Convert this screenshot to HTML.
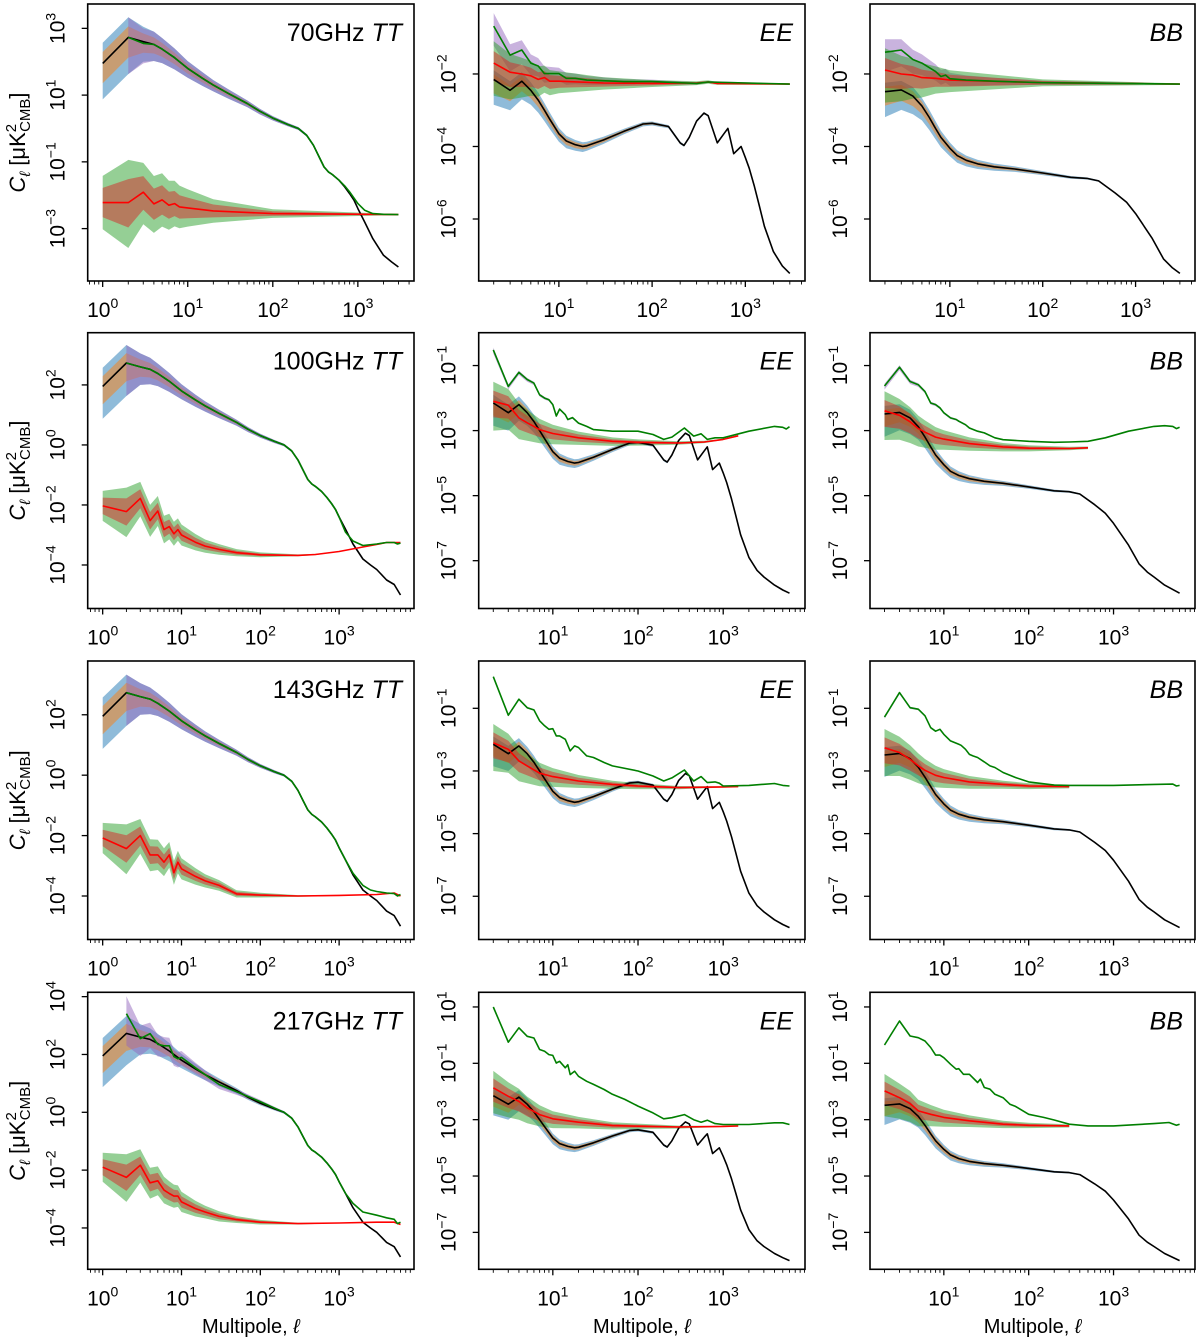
<!DOCTYPE html>
<html><head><meta charset="utf-8"><style>
html,body{margin:0;padding:0;background:#fff;}
svg{display:block;font-family:"Liberation Sans","DejaVu Sans",sans-serif;}
</style></head><body>
<svg id="fig" xmlns="http://www.w3.org/2000/svg" width="1200" height="1342" viewBox="0 0 1200 1342"></svg>
<script>
// ---------- shared theory spectra (log10 C_ell) ----------
const tt_theory_ell=[1,2,3,4,5,7,10,15,20,30,50,70,100,150,200,250,300,350,400,450,500,600,700,800,900,1000,1200,1500,2000,2500,3000,4000,5000,6000];
const tt_theory_val=[1.95,2.73,2.6,2.52,2.38,2.12,1.8,1.5,1.3,1.05,0.75,0.52,0.31,0.12,0.0,-0.2,-0.5,-0.85,-1.15,-1.3,-1.38,-1.55,-1.75,-1.95,-2.15,-2.4,-2.8,-3.3,-3.8,-4.0,-4.15,-4.5,-4.65,-5.0];
const ee_theory_ell=[2,3,4,5,6,7,8,10,12,15,18,20,30,50,80,100,150,200,220,250,300,360,400,500,600,650,750,900,1000,1100,1250,1400,1600,2000,2500,3000,4000,5000,6000];
const ee_theory_val=[-2.15,-2.45,-2.2,-2.45,-2.72,-3.0,-3.25,-3.65,-3.85,-3.95,-4.0,-3.98,-3.82,-3.58,-3.38,-3.36,-3.45,-3.9,-3.97,-3.75,-3.3,-3.08,-3.15,-3.9,-3.62,-3.5,-4.2,-4.0,-4.3,-4.6,-5.1,-5.6,-6.2,-6.9,-7.3,-7.5,-7.75,-7.9,-8.0];
const bb_theory_ell=[2,3,4,5,6,7,8,10,12,15,20,30,50,100,200,300,400,600,800,1000,1500,2000,2500,3000,4000,6000];
const bb_theory_val=[-2.49,-2.44,-2.61,-2.88,-3.2,-3.5,-3.75,-4.05,-4.25,-4.38,-4.48,-4.56,-4.62,-4.73,-4.85,-4.88,-4.95,-5.28,-5.54,-5.85,-6.52,-7.1,-7.35,-7.5,-7.75,-8.0];

// ---------- TT noise / total ----------
const tt70_noise_ell=[1,2,3,4,5,6,7,8,10,20,100,3000];
const tt70_noise_val=[-2.22,-2.22,-1.91,-2.26,-2.14,-2.3,-2.25,-2.35,-2.38,-2.47,-2.55,-2.58];
const tt70_total_ell=[2,3,4,5,7,10,15,20,30,50,70,100,150,200,250,300,350,400,450,500,600,700,800,1000,1200,1500,2000,3000];
const tt70_total_val=[2.73,2.55,2.52,2.38,2.12,1.8,1.5,1.3,1.05,0.75,0.52,0.31,0.12,0.0,-0.2,-0.5,-0.85,-1.15,-1.3,-1.38,-1.55,-1.72,-1.9,-2.25,-2.45,-2.55,-2.57,-2.58];
const tt100_noise_ell=[1,2,3,4,5,6,7,8,9,10,15,20,30,50,100,300,500,1000,2000,4000,6000];
const tt100_noise_val=[-2.03,-2.22,-1.78,-2.52,-2.2,-2.82,-2.72,-2.96,-2.82,-3.0,-3.24,-3.37,-3.48,-3.59,-3.66,-3.68,-3.65,-3.55,-3.4,-3.25,-3.25];
const tt100_total_ell=[2,3,4,5,7,10,15,20,30,50,70,100,150,200,250,300,350,400,450,500,600,700,800,900,1000,1200,1500,2000,3000,4000,5000,5500,6000];
const tt100_total_val=[2.73,2.6,2.52,2.38,2.12,1.8,1.5,1.3,1.05,0.75,0.52,0.31,0.12,0.0,-0.2,-0.5,-0.85,-1.15,-1.3,-1.38,-1.55,-1.75,-1.95,-2.15,-2.4,-2.9,-3.2,-3.35,-3.3,-3.25,-3.25,-3.3,-3.27];
const tt143_noise_ell=[1,2,3,4,5,6,7,8,9,10,15,20,30,50,100,300,1000,3000,5000,6000];
const tt143_noise_val=[-2.08,-2.43,-2.0,-2.64,-2.64,-2.88,-2.64,-3.23,-2.88,-3.1,-3.35,-3.5,-3.65,-3.93,-3.97,-4.0,-3.98,-3.95,-3.9,-4.0];
const tt143_total_ell=[2,3,4,5,7,10,15,20,30,50,70,100,150,200,250,300,350,400,450,500,600,700,800,900,1000,1200,1500,2000,2500,3000,4000,5000,5500,6000];
const tt143_total_val=[2.73,2.6,2.52,2.38,2.12,1.8,1.5,1.3,1.05,0.75,0.52,0.31,0.12,0.0,-0.2,-0.5,-0.85,-1.15,-1.3,-1.38,-1.55,-1.75,-1.95,-2.15,-2.4,-2.8,-3.25,-3.65,-3.8,-3.85,-3.9,-3.92,-4.0,-3.95];
const tt217_noise_ell=[1,2,3,4,5,6,7,8,9,10,15,20,30,50,100,300,1000,3000,5000,6000];
const tt217_noise_val=[-1.9,-2.25,-1.83,-2.44,-2.37,-2.69,-2.81,-2.9,-2.9,-3.1,-3.33,-3.45,-3.6,-3.71,-3.8,-3.85,-3.83,-3.8,-3.8,-3.88];
const tt217_total_ell=[2,3,4,5,6,7,8,9,10,15,20,30,50,100,150,200,250,300,350,400,450,500,600,700,800,900,1000,1200,1500,2000,3000,4000,5000,5500,6000];
const tt217_total_val=[3.41,2.55,2.72,2.35,2.3,2.3,1.93,1.85,1.9,1.54,1.3,0.96,0.71,0.37,0.15,0.0,-0.2,-0.5,-0.85,-1.15,-1.3,-1.38,-1.55,-1.75,-1.95,-2.15,-2.4,-2.8,-3.15,-3.45,-3.56,-3.65,-3.7,-3.85,-3.8];

// ---------- EE noise / total ----------
const ee70_noise_ell=[2,3,4,5,6,7,8,10,30,100,300,400,500,3000];
const ee70_noise_val=[-1.7,-1.95,-2.0,-2.05,-2.15,-2.1,-2.2,-2.2,-2.25,-2.26,-2.25,-2.22,-2.26,-2.28];
const ee70_total_ell=[2,3,4,5,6,7,10,12,15,20,50,100,300,400,3000];
const ee70_total_val=[-0.68,-1.48,-1.34,-1.7,-1.78,-1.99,-1.99,-2.12,-2.12,-2.17,-2.21,-2.21,-2.26,-2.22,-2.28];
const ee100_noise_ell=[2,3,4,5,7,10,20,50,100,300,600,1000,1500];
const ee100_noise_val=[-2.1,-2.22,-2.61,-2.76,-2.97,-3.09,-3.22,-3.33,-3.36,-3.38,-3.35,-3.27,-3.16];
const ee100_total_ell=[2,3,4,5,6,7,8,9,10,11,12,14,15,17,20,25,30,50,100,150,200,250,350,450,550,650,800,1000,2000,4000,5000,5500,6000];
const ee100_total_val=[-0.52,-1.64,-1.21,-1.43,-1.54,-1.9,-2.0,-2.05,-2.2,-2.55,-2.34,-2.51,-2.66,-2.6,-2.77,-2.87,-2.97,-3.02,-3.02,-3.12,-3.27,-3.2,-2.92,-3.17,-3.1,-3.27,-3.22,-3.22,-3.02,-2.87,-2.9,-2.95,-2.88];
const ee143_noise_ell=[2,3,4,5,7,10,20,50,100,300,1000,1500];
const ee143_noise_val=[-2.1,-2.31,-2.68,-2.84,-3.07,-3.18,-3.32,-3.43,-3.48,-3.53,-3.51,-3.5];
const ee143_total_ell=[2,3,4,5,6,7,8,9,10,11,12,14,16,18,20,25,30,40,50,100,150,200,250,350,450,550,650,800,900,1000,2000,4000,5000,6000];
const ee143_total_val=[0.01,-1.22,-0.71,-0.98,-1.05,-1.4,-1.56,-1.67,-1.65,-1.88,-1.88,-1.99,-2.36,-2.2,-2.25,-2.52,-2.57,-2.73,-2.84,-3.0,-3.16,-3.32,-3.22,-2.97,-3.32,-3.18,-3.37,-3.35,-3.39,-3.48,-3.46,-3.4,-3.46,-3.48];
const ee217_noise_ell=[2,3,4,5,7,10,20,50,100,300,1000,1500];
const ee217_noise_val=[-1.87,-2.17,-2.35,-2.58,-2.82,-2.97,-3.09,-3.21,-3.23,-3.26,-3.24,-3.22];
const ee217_total_ell=[2,3,4,5,6,7,8,9,10,11,12,14,15,16,18,20,25,30,40,50,70,100,150,200,250,350,450,550,650,800,1000,2000,4000,5000,6000];
const ee217_total_val=[1.0,-0.25,0.26,-0.04,-0.1,-0.51,-0.57,-0.69,-0.72,-0.99,-0.93,-1.16,-1.05,-1.4,-1.28,-1.46,-1.64,-1.75,-1.93,-2.1,-2.28,-2.52,-2.76,-2.97,-2.93,-2.82,-3.0,-3.09,-3.02,-3.14,-3.17,-3.17,-3.11,-3.11,-3.17];

// ---------- BB noise / total ----------
const bb70_noise_ell=[2,3,4,5,7,10,100,3000];
const bb70_noise_val=[-1.89,-2.0,-2.03,-2.1,-2.12,-2.17,-2.24,-2.28];
const bb70_total_ell=[2,3,4,5,7,8,9,10,15,30,100,3000];
const bb70_total_val=[-1.4,-1.34,-1.6,-1.7,-1.93,-2.07,-2.03,-2.13,-2.17,-2.2,-2.24,-2.28];
const bb100_noise_ell=[2,3,4,5,6,8,10,20,50,100,300,500];
const bb100_noise_val=[-2.39,-2.53,-2.73,-2.94,-3.05,-3.2,-3.26,-3.4,-3.5,-3.54,-3.55,-3.53];
const bb100_total_ell=[2,3,4,5,6,7,8,9,10,12,14,15,18,20,25,30,40,50,100,200,300,500,800,1500,3000,4000,5000,5500,6000];
const bb100_total_val=[-1.63,-1.05,-1.49,-1.59,-1.8,-2.15,-2.2,-2.3,-2.45,-2.61,-2.66,-2.71,-2.82,-2.92,-3.02,-3.07,-3.22,-3.28,-3.33,-3.36,-3.35,-3.33,-3.22,-3.02,-2.87,-2.85,-2.87,-2.94,-2.9];
const bb143_noise_ell=[2,3,4,5,6,8,10,20,50,100,300];
const bb143_noise_val=[-2.26,-2.41,-2.63,-2.84,-2.98,-3.14,-3.21,-3.35,-3.43,-3.48,-3.5];
const bb143_total_ell=[2,3,4,5,6,7,8,9,10,12,15,16,18,20,22,25,30,35,40,50,70,100,200,300,1000,3000,5000,5500,6000];
const bb143_total_val=[-1.28,-0.5,-0.98,-1.03,-1.24,-1.62,-1.73,-1.67,-1.83,-2.04,-2.15,-2.18,-2.31,-2.47,-2.52,-2.57,-2.71,-2.84,-2.89,-3.05,-3.21,-3.35,-3.45,-3.46,-3.46,-3.43,-3.42,-3.48,-3.46];
const bb217_noise_ell=[2,3,4,5,7,10,20,50,100,300];
const bb217_noise_val=[-1.98,-2.22,-2.43,-2.69,-2.81,-2.92,-3.04,-3.16,-3.2,-3.22];
const bb217_total_ell=[2,3,4,5,6,7,8,9,10,12,14,15,17,20,25,27,30,35,40,50,60,70,100,150,200,300,500,1000,3000,4500,5500,6000];
const bb217_total_val=[-0.35,0.5,-0.03,-0.09,-0.21,-0.44,-0.71,-0.71,-0.8,-1.03,-1.21,-1.19,-1.39,-1.39,-1.68,-1.56,-1.86,-1.92,-2.1,-2.22,-2.45,-2.53,-2.81,-2.92,-3.01,-3.16,-3.22,-3.22,-3.14,-3.1,-3.2,-3.16];

// ---------- uncertainty band half-widths (decades) ----------
const tt_w_ell=[1,2,3,5,10,20,50,100,200,500,1000];
const tt_sig_up=[0.62,0.6,0.45,0.33,0.22,0.15,0.09,0.06,0.04,0.02,0];
const tt_sig_dn=[1.08,1.1,0.6,0.42,0.28,0.19,0.11,0.07,0.045,0.02,0];
const tt_noi_up=[0.5,0.8,0.55,0.5,0.35,0.22,0.12,0.08,0.04,0.02,0.01];
const tt_noi_dn=[0.5,0.85,0.6,0.5,0.35,0.22,0.12,0.08,0.04,0.02,0.01];
const pol_w_ell=[2,3,4,5,7,10,15,20,30,50,100,200,500,1000];
const pol_sig_up=[0.25,0.25,0.25,0.22,0.2,0.16,0.13,0.11,0.09,0.07,0.05,0.035,0.02,0];
const pol_sig_dn=[0.7,0.55,0.5,0.4,0.3,0.22,0.17,0.14,0.11,0.08,0.06,0.04,0.02,0];
const pol_noi_up=[0.6,0.5,0.45,0.4,0.33,0.27,0.22,0.19,0.16,0.12,0.09,0.06,0.04,0.02];
const pol_noi_dn=[0.9,0.75,0.65,0.55,0.42,0.33,0.27,0.22,0.18,0.14,0.1,0.07,0.04,0.02];

// ---------- tick labels ----------
const xTicksTT=[0,1,2,3];
const xTicksPol=[1,2,3];
const yTicksTT=[[3,1,-1,-3],[2,0,-2,-4],[2,0,-2,-4],[4,2,0,-2,-4]];
const yTicksPol=[[-2,-4,-6],[-1,-3,-5,-7],[-1,-3,-5,-7],[1,-1,-3,-5,-7]];
const freqLabels=["70GHz","100GHz","143GHz","217GHz"];

// ---------- layout ----------
const colX=[[87.7,414],[478.7,805],[870,1195]];
const rowY=[[4,281],[332.7,608.5],[661,939.5],[992.3,1269.3]];
const xRangeTT=[[-0.176,3.66],[-0.19,3.95],[-0.19,3.95],[-0.19,3.95]];
const xRangePol=[[0.14,3.64],[0.13,3.96],[0.13,3.96],[0.13,3.96]];
const yRangeTT=[[3.73,-4.57],[3.74,-5.45],[3.78,-5.44],[4.15,-5.43]];
const yRangePol=[[-0.07,-7.71],[0.01,-8.47],[0.51,-8.38],[1.52,-8.31]];
const lmaxRow=[3000,6000,6000,6000];
const noiseScaleTT=[1.6,1,1,1];
const noiseScalePol=[1,1,1,1];
const purpScalePol=[0.6,0.12,0.06,0.03];

const NS="http://www.w3.org/2000/svg";
const svg=document.getElementById('fig');
function mk(tag,attrs,parent){const e=document.createElementNS(NS,tag);for(const k in attrs)e.setAttribute(k,attrs[k]);(parent||svg).appendChild(e);return e;}
function interp(xs,ys,l){const lx=Math.log10(l);const L=xs.map(Math.log10);if(lx<=L[0])return ys[0];if(lx>=L[L.length-1])return ys[ys.length-1];for(let i=1;i<L.length;i++){if(lx<=L[i]){const t=(lx-L[i-1])/(L[i]-L[i-1]);return ys[i-1]+t*(ys[i]-ys[i-1]);}}return ys[ys.length-1];}

const defs=mk('defs',{});
let clipN=0;

function drawPanel(r,c,kind,d){
  const [x0,x1]=colX[c],[y0,y1]=rowY[r];
  const xr=kind==='TT'?xRangeTT[r]:xRangePol[r];
  const yr=kind==='TT'?yRangeTT[r]:yRangePol[r];
  const sx=l=>x0+(Math.log10(l)-xr[0])/(xr[1]-xr[0])*(x1-x0);
  const sy=v=>y0+(yr[0]-v)/(yr[0]-yr[1])*(y1-y0);
  const lmax=lmaxRow[r];
  const g=mk('g',{});
  
  
  const cid='clip'+(clipN++);
  const cp=mk('clipPath',{id:cid},defs);
  mk('rect',{x:x0,y:y0,width:x1-x0,height:y1-y0},cp);
  const pg=mk('g',{'clip-path':'url(#'+cid+')'},g);
  const wE=kind==='TT'?tt_w_ell:pol_w_ell;
  const sU=kind==='TT'?tt_sig_up:pol_sig_up, sD=kind==='TT'?tt_sig_dn:pol_sig_dn;
  const nU=kind==='TT'?tt_noi_up:pol_noi_up, nD=kind==='TT'?tt_noi_dn:pol_noi_dn;
  function band(ells,vals,up,dn,scale,fill,name){
    const pts=[],lo=[];
    for(let i=0;i<ells.length;i++){if(ells[i]>lmax)continue;
      const u=interp(wE,up,ells[i])*scale,dd=interp(wE,dn,ells[i])*scale;
      pts.push(sx(ells[i]).toFixed(1)+','+sy(vals[i]+u).toFixed(1));
      lo.unshift(sx(ells[i]).toFixed(1)+','+sy(vals[i]-dd).toFixed(1));}
    const p=mk('polygon',{points:pts.concat(lo).join(' '),fill:fill,'fill-opacity':0.5,stroke:'none'},pg);
    
    
  }
  function line(ells,vals,color,name){
    const pts=[];for(let i=0;i<ells.length;i++){if(ells[i]>lmax)continue;pts.push(sx(ells[i]).toFixed(1)+','+sy(vals[i]).toFixed(1));}
    const p=mk('polyline',{points:pts.join(' '),fill:'none',stroke:color,'stroke-width':1.6,'stroke-linejoin':'round'},pg);
    
    
  }
  const ns=kind==='TT'?noiseScaleTT[r]:noiseScalePol[r];
  const ps=kind==='TT'?1:purpScalePol[r]/0.6;
  const purpU=kind==='TT'?sU:nU, purpD=kind==='TT'?sD:nD;
  band(d.te,d.tv,sU,sD,1,'#1f77b4','signal-band-outer');
  band(d.te,d.tv,sU,sD,0.55,'#ff7f0e','signal-band-inner');
  band(d.oe,d.ov,purpU,purpD,kind==='TT'?1:ps*0.6,'#9467bd','total-band');
  band(d.ne,d.nv,nU,nD,ns,'#2ca02c','noise-band-outer');
  band(d.ne,d.nv,nU,nD,ns*0.55,'#d62728','noise-band-inner');
  line(d.te,d.tv,'#000','theory-line');
  line(d.ne,d.nv,'#ff0000','noise-line');
  line(d.oe,d.ov,'#007f00','total-line');
  const fr=mk('rect',{x:x0,y:y0,width:x1-x0,height:y1-y0,fill:'none',stroke:'#000','stroke-width':1.6},g);
  
  
  const xt=kind==='TT'?xTicksTT:xTicksPol;
  for(let dd=Math.floor(xr[0]);dd<=Math.ceil(xr[1]);dd++){
    for(let k=1;k<10;k++){const lv=dd+Math.log10(k);if(lv<xr[0]||lv>xr[1])continue;
      const X=sx(Math.pow(10,lv));mk('line',{x1:X,x2:X,y1:y1,y2:y1+(k===1?6:3.5),stroke:'#000','stroke-width':k===1?1.3:0.9},g);}
  }
  xt.forEach(e=>{const X=sx(Math.pow(10,e));
    const t=mk('text',{x:X,y:y1+36,'text-anchor':'middle','font-size':21},g);
    
    
    t.appendChild(document.createTextNode('10'));
    const s=mk('tspan',{dy:-9,'font-size':14},t);s.textContent=String(e);});
  const yt=kind==='TT'?yTicksTT[r]:yTicksPol[r];
  yt.forEach(e=>{const Y=sy(e);
    mk('line',{x1:x0-6,x2:x0,y1:Y,y2:Y,stroke:'#000','stroke-width':1.3},g);
    const t=mk('text',{transform:'translate('+(x0-23)+','+Y.toFixed(1)+') rotate(-90)','text-anchor':'middle','font-size':21},g);
    
    
    t.appendChild(document.createTextNode('10'));
    const s=mk('tspan',{dy:-9,'font-size':14},t);s.textContent=(e<0?'\u2212':'')+Math.abs(e);});
  const tt=mk('text',{x:x1-12,y:y0+37,'text-anchor':'end','font-size':25},g);
  
  
  if(kind==='TT'){tt.appendChild(document.createTextNode(freqLabels[r]+'\u00a0'));const it=mk('tspan',{'font-style':'italic'},tt);it.textContent='TT';}
  else{const it=mk('tspan',{'font-style':'italic'},tt);it.textContent=kind;}
  if(kind==='TT'){
    const yc=(y0+y1)/2;
    const yl=mk('text',{transform:'translate(25,'+yc.toFixed(1)+') rotate(-90)','text-anchor':'middle','font-size':22},g);
    
    
    const c1=mk('tspan',{'font-style':'italic'},yl);c1.textContent='C';
    const c2=mk('tspan',{dy:5,'font-size':15,'font-style':'italic'},yl);c2.textContent='\u2113';
    const c3=mk('tspan',{dy:-5},yl);c3.textContent=' [\u03bcK';
    const c4=mk('tspan',{dy:-9,'font-size':15},yl);c4.textContent='2';
    const c5=mk('tspan',{dx:-8,dy:14,'font-size':15},yl);c5.textContent='CMB';
    const c6=mk('tspan',{dy:-5},yl);c6.textContent=']';
  }
  if(r===3){
    const xl=mk('text',{x:(x0+x1)/2,y:1333,'text-anchor':'middle','font-size':20},g);
    
    
    xl.appendChild(document.createTextNode('Multipole, '));
    const it=mk('tspan',{'font-style':'italic'},xl);it.textContent='\u2113';
  }
}

const ttNoise=[[tt70_noise_ell,tt70_noise_val],[tt100_noise_ell,tt100_noise_val],[tt143_noise_ell,tt143_noise_val],[tt217_noise_ell,tt217_noise_val]];
const ttTotal=[[tt70_total_ell,tt70_total_val],[tt100_total_ell,tt100_total_val],[tt143_total_ell,tt143_total_val],[tt217_total_ell,tt217_total_val]];
const eeNoise=[[ee70_noise_ell,ee70_noise_val],[ee100_noise_ell,ee100_noise_val],[ee143_noise_ell,ee143_noise_val],[ee217_noise_ell,ee217_noise_val]];
const eeTotal=[[ee70_total_ell,ee70_total_val],[ee100_total_ell,ee100_total_val],[ee143_total_ell,ee143_total_val],[ee217_total_ell,ee217_total_val]];
const bbNoise=[[bb70_noise_ell,bb70_noise_val],[bb100_noise_ell,bb100_noise_val],[bb143_noise_ell,bb143_noise_val],[bb217_noise_ell,bb217_noise_val]];
const bbTotal=[[bb70_total_ell,bb70_total_val],[bb100_total_ell,bb100_total_val],[bb143_total_ell,bb143_total_val],[bb217_total_ell,bb217_total_val]];

for(let r=0;r<4;r++){
  drawPanel(r,0,'TT',{te:tt_theory_ell,tv:tt_theory_val,ne:ttNoise[r][0],nv:ttNoise[r][1],oe:ttTotal[r][0],ov:ttTotal[r][1]});
  drawPanel(r,1,'EE',{te:ee_theory_ell,tv:ee_theory_val,ne:eeNoise[r][0],nv:eeNoise[r][1],oe:eeTotal[r][0],ov:eeTotal[r][1]});
  drawPanel(r,2,'BB',{te:bb_theory_ell,tv:bb_theory_val,ne:bbNoise[r][0],nv:bbNoise[r][1],oe:bbTotal[r][0],ov:bbTotal[r][1]});
}
</script>
</body></html>
